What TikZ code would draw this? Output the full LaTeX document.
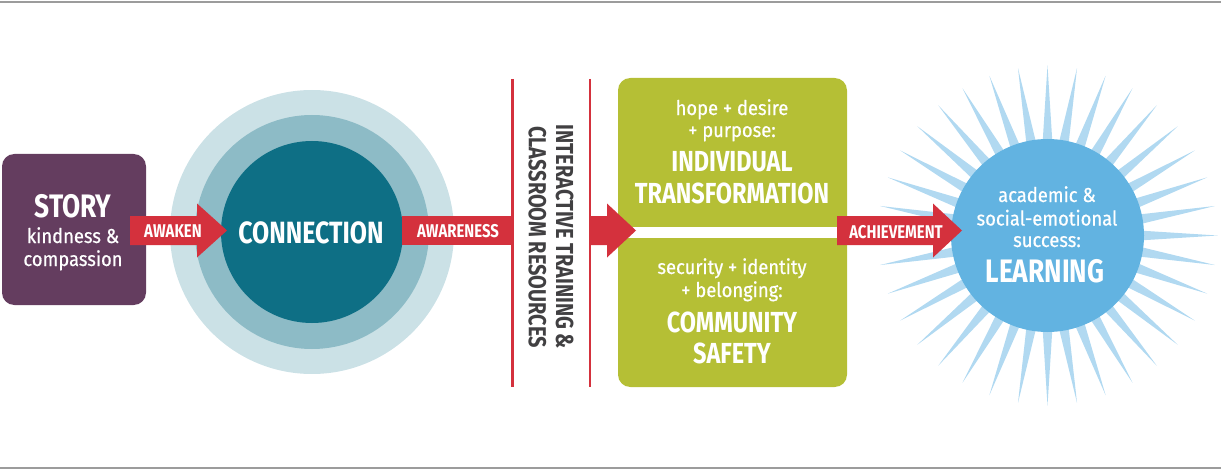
\documentclass[tikz,border=0pt]{standalone}
\usepackage{fontspec}
\setmainfont{Fira Sans}[FakeStretch=0.91, FakeBold=0.6]
\newfontfamily\condfont[FakeStretch=0.81]{Fira Sans}
\usetikzlibrary{calc}
\definecolor{storypurple}{HTML}{643D5F}
\definecolor{arrowred}{HTML}{D4313D}
\definecolor{tealdark}{HTML}{0E6F85}
\definecolor{tealmid}{HTML}{8DBBC6}
\definecolor{teallight}{HTML}{CBE1E6}
\definecolor{boxgreen}{HTML}{B5BF35}
\definecolor{sunblue}{HTML}{62B3E1}
\definecolor{raysblue}{HTML}{B1D9F1}
\definecolor{textgray}{HTML}{414042}
\definecolor{rulegray}{HTML}{9C9C9C}

\begin{document}
\begin{tikzpicture}[
  x=0.02cm, y=-0.02cm,
  every node/.style={inner sep=0pt, text=white},
  lc/.style={anchor=base, font=\fontsize{11.5}{13}\selectfont},
  caps/.style={anchor=base, font=\condfont\bfseries\fontsize{16.5}{18}\selectfont},
  bigcaps/.style={caps, font=\condfont\bfseries\fontsize{18.5}{20}\selectfont},
  arrlbl/.style={anchor=base, font=\condfont\bfseries\fontsize{10.5}{12}\selectfont},
  redarr/.style={fill=arrowred},
  redline/.style={draw=arrowred, line width=1.7pt},
  rule/.style={draw=rulegray, line width=1.1pt},
]
\useasboundingbox (0,0) rectangle (1221,473);
% rules top and bottom
\draw[rule] (0,2) -- (1221,2);
\draw[rule] (0,468) -- (1221,468);

% story box
\fill[storypurple, rounded corners=7pt] (2,154) rectangle (146,305);

% connection rings
\fill[teallight] (312,232) circle (142);
\fill[tealmid]   (312,232) circle (117);
\fill[tealdark]  (312,232) circle (91);

% red dividers
\draw[redline] (512.5,79) -- (512.5,387);
\draw[redline] (590,79) -- (590,387);

% green boxes
\fill[boxgreen, rounded corners=7pt] (618,78) rectangle (847,387);
\fill[white] (618,227) rectangle (847,238);

% sun
\begin{scope}[shift={(1047.5,235.5)}]
  \foreach \a in {0,10,...,350}
    \fill[raysblue] (\a-3.4:88) -- (\a:170) -- (\a+3.4:88) -- cycle;
  \fill[sunblue] (0,0) circle (96.5);
\end{scope}

% block arrows
\fill[redarr] (130,216) -- (197,216) -- (197,203.5) -- (227,230.5)
  -- (197,257.5) -- (197,245) -- (130,245) -- cycle;
\fill[redarr] (402,216) rectangle (512,245);
\fill[redarr] (590,216) -- (607,216) -- (607,203.5) -- (636,230.5)
  -- (607,257.5) -- (607,245) -- (590,245) -- cycle;
\fill[redarr] (837,216) -- (933,216) -- (933,203.5) -- (962,230.5)
  -- (933,257.5) -- (933,245) -- (837,245) -- cycle;

% texts
\node[bigcaps] (story) at (73,217) {STORY};
\node[lc] (kind) at (73,243) {kindness \&};
\node[lc] (comp) at (73,266) {compassion};
\node[arrlbl] (awaken) at (173,237.5) {AWAKEN};
\node[caps, font=\condfont\bfseries\fontsize{17.5}{19}\selectfont]
  (conn) at (311,243) {CONNECTION};
\node[arrlbl] (aware) at (458,237.5) {AWARENESS};
\node[rotate=-90, align=center, text=textgray,
  font=\condfont\bfseries\fontsize{14}{15.4}\selectfont]
  (train) at (551,237) {INTERACTIVE TRAINING \&\\CLASSROOM RESOURCES};
\node[lc] (hope) at (732,115) {hope + desire};
\node[lc] (purp) at (732,137) {+ purpose:};
\node[caps] (indiv) at (732,172) {INDIVIDUAL};
\node[caps] (trans) at (732,203) {TRANSFORMATION};
\node[lc] (secur) at (732,274) {security + identity};
\node[lc] (belong) at (732,297) {+ belonging:};
\node[caps] (commu) at (732,332) {COMMUNITY};
\node[caps] (safe) at (732,363) {SAFETY};
\node[arrlbl] (achiev) at (896,238) {ACHIEVEMENT};
\node[lc] (acad) at (1047,202) {academic \&};
\node[lc] (social) at (1047,225.5) {social-emotional};
\node[lc] (succ) at (1047,247) {success:};
\node[bigcaps] (learn) at (1045,282.5) {LEARNING};
\end{tikzpicture}
\end{document}
